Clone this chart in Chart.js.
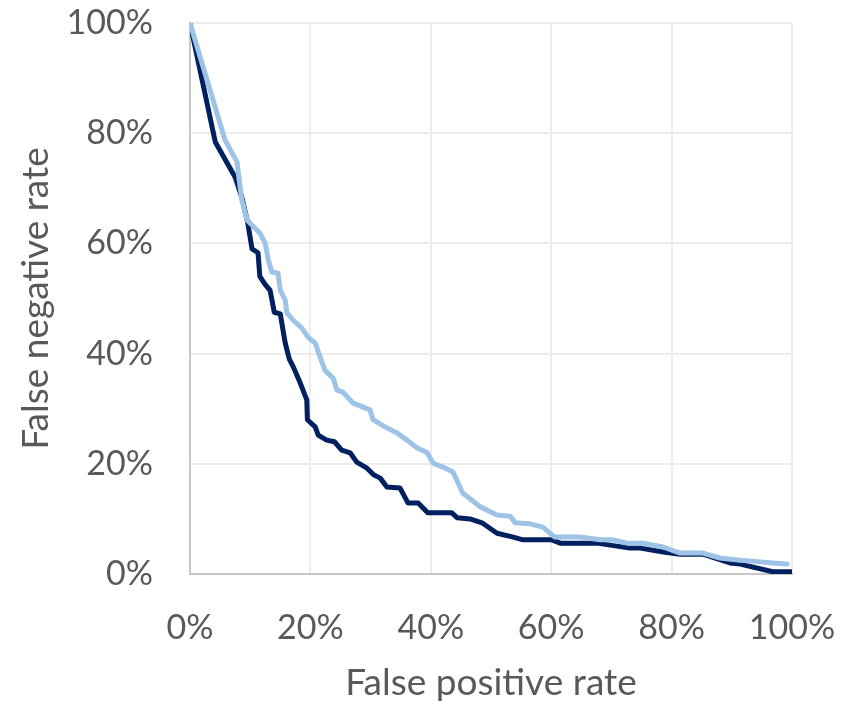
<!DOCTYPE html>
<html>
<head>
<meta charset="utf-8">
<script src="https://cdn.jsdelivr.net/npm/chart.js@4/dist/chart.umd.min.js"></script>
<style>
  html, body { margin: 0; padding: 0; background: #ffffff; }
  #wrap { width: 852px; height: 705px; }
</style>
</head>
<body>
<div id="wrap"><canvas id="c" width="852" height="705"></canvas></div>
<script>
// Error-rate trade-off curves for two classifiers (values in percent)
const darkFpr = [0, 4.2, 7.5, 8.6, 9.6, 10.3, 11.3, 11.6, 12.5, 13.3, 14.0, 15.0, 15.8, 16.5, 17.2, 18.3, 19.4, 19.5, 20.8, 21.3, 22.7, 24.0, 25.2, 26.6, 27.7, 29.4, 30.5, 31.6, 32.7, 34.9, 36.2, 37.9, 39.5, 43.5, 44.4, 46.5, 48.5, 51.0, 53.7, 55.3, 60.1, 61.5, 67.6, 73.1, 74.8, 78.6, 81.4, 85.2, 89.7, 91.4, 96.8, 100];
const darkFnr = [100, 78.4, 72.0, 68.4, 63.7, 59.0, 58.3, 54.0, 52.5, 51.5, 47.5, 47.2, 42.0, 39.0, 37.5, 34.7, 31.6, 28.0, 26.7, 25.2, 24.3, 24.0, 22.5, 22.0, 20.3, 19.2, 18.0, 17.4, 15.8, 15.6, 12.9, 12.9, 11.1, 11.1, 10.2, 10.0, 9.3, 7.4, 6.7, 6.2, 6.2, 5.6, 5.6, 4.7, 4.7, 4.0, 3.6, 3.6, 2.0, 1.8, 0.4, 0.4];

const lightFpr = [0, 5.8, 7.8, 8.6, 9.5, 11.6, 12.5, 13.0, 13.6, 14.6, 15.0, 15.8, 16.1, 17.1, 18.6, 19.6, 20.8, 21.6, 22.4, 23.8, 24.4, 25.4, 27.1, 29.9, 30.4, 32.4, 34.4, 36.0, 37.7, 39.4, 40.4, 42.0, 43.7, 45.3, 48.2, 51.0, 53.2, 54.0, 56.5, 58.6, 60.6, 64.8, 68.1, 70.3, 72.6, 75.2, 78.6, 81.4, 85.2, 88.0, 91.4, 94.7, 96.8, 99.2];
const lightFnr = [100, 78.8, 74.8, 67.9, 64.2, 61.9, 60.0, 57.0, 54.8, 54.6, 51.5, 49.7, 47.4, 46.1, 44.6, 43.0, 41.9, 39.4, 37.0, 35.5, 33.4, 33.0, 31.0, 29.8, 28.0, 26.7, 25.6, 24.3, 22.9, 22.0, 20.1, 19.4, 18.5, 14.7, 12.2, 10.7, 10.5, 9.3, 9.1, 8.5, 6.7, 6.7, 6.2, 6.2, 5.6, 5.6, 4.9, 3.8, 3.8, 2.9, 2.5, 2.2, 2.0, 1.8];

const axisTicks = [0, 20, 40, 60, 80, 100];
const xTitle = 'False positive rate';
const yTitle = 'False negative rate';

const toPoints = (xs, ys) => xs.map((x, i) => ({ x: x, y: ys[i] }));
const pct = v => v + '%';

const textColor = '#595959';
const fontFamily = 'Lato, "Open Sans", sans-serif';
const tickFont = { family: fontFamily, size: 34 };
const titleFont = { family: fontFamily, size: 37 };

// keep the plot rectangle fixed; label overflow is covered by layout padding
const clearScalePadding = s => {
  s.paddingTop = 0; s.paddingBottom = 0; s.paddingLeft = 0; s.paddingRight = 0;
};

new Chart(document.getElementById('c'), {
  type: 'line',
  data: {
    datasets: [
      {
        data: toPoints(lightFpr, lightFnr),
        borderColor: '#9DC3E6',
        borderWidth: 5,
        pointRadius: 0,
        tension: 0,
        borderJoinStyle: 'round',
        borderCapStyle: 'round'
      },
      {
        data: toPoints(darkFpr, darkFnr),
        borderColor: '#002060',
        borderWidth: 5,
        pointRadius: 0,
        tension: 0,
        borderJoinStyle: 'round',
        borderCapStyle: 'round'
      }
    ]
  },
  options: {
    responsive: false,
    animation: false,
    devicePixelRatio: 1,
    layout: { padding: { top: 23, right: 60, left: 0, bottom: 0 } },
    plugins: { legend: { display: false }, tooltip: { enabled: false } },
    scales: {
      x: {
        type: 'linear',
        min: 0,
        max: 100,
        afterBuildTicks: s => { s.ticks = axisTicks.map(v => ({ value: v })); },
        afterFit: s => { s.height = 131; clearScalePadding(s); },
        ticks: {
          callback: pct,
          color: textColor,
          font: tickFont,
          padding: 34,
          maxRotation: 0
        },
        grid: { color: '#ececec', lineWidth: 2, drawTicks: false },
        border: { color: '#c6c6c6', width: 2 },
        title: {
          display: true,
          text: xTitle,
          color: textColor,
          font: titleFont,
          padding: { top: 0, bottom: 0 }
        }
      },
      y: {
        type: 'linear',
        min: 0,
        max: 100,
        afterBuildTicks: s => { s.ticks = axisTicks.map(v => ({ value: v })); },
        afterFit: s => { s.width = 190; clearScalePadding(s); },
        ticks: {
          callback: pct,
          color: textColor,
          font: tickFont,
          padding: 37
        },
        grid: { color: '#ececec', lineWidth: 2, drawTicks: false },
        border: { color: '#c6c6c6', width: 2 },
        title: {
          display: true,
          text: yTitle,
          color: textColor,
          font: titleFont,
          padding: { top: 14, bottom: 0 }
        }
      }
    }
  }
});
</script>
</body>
</html>
